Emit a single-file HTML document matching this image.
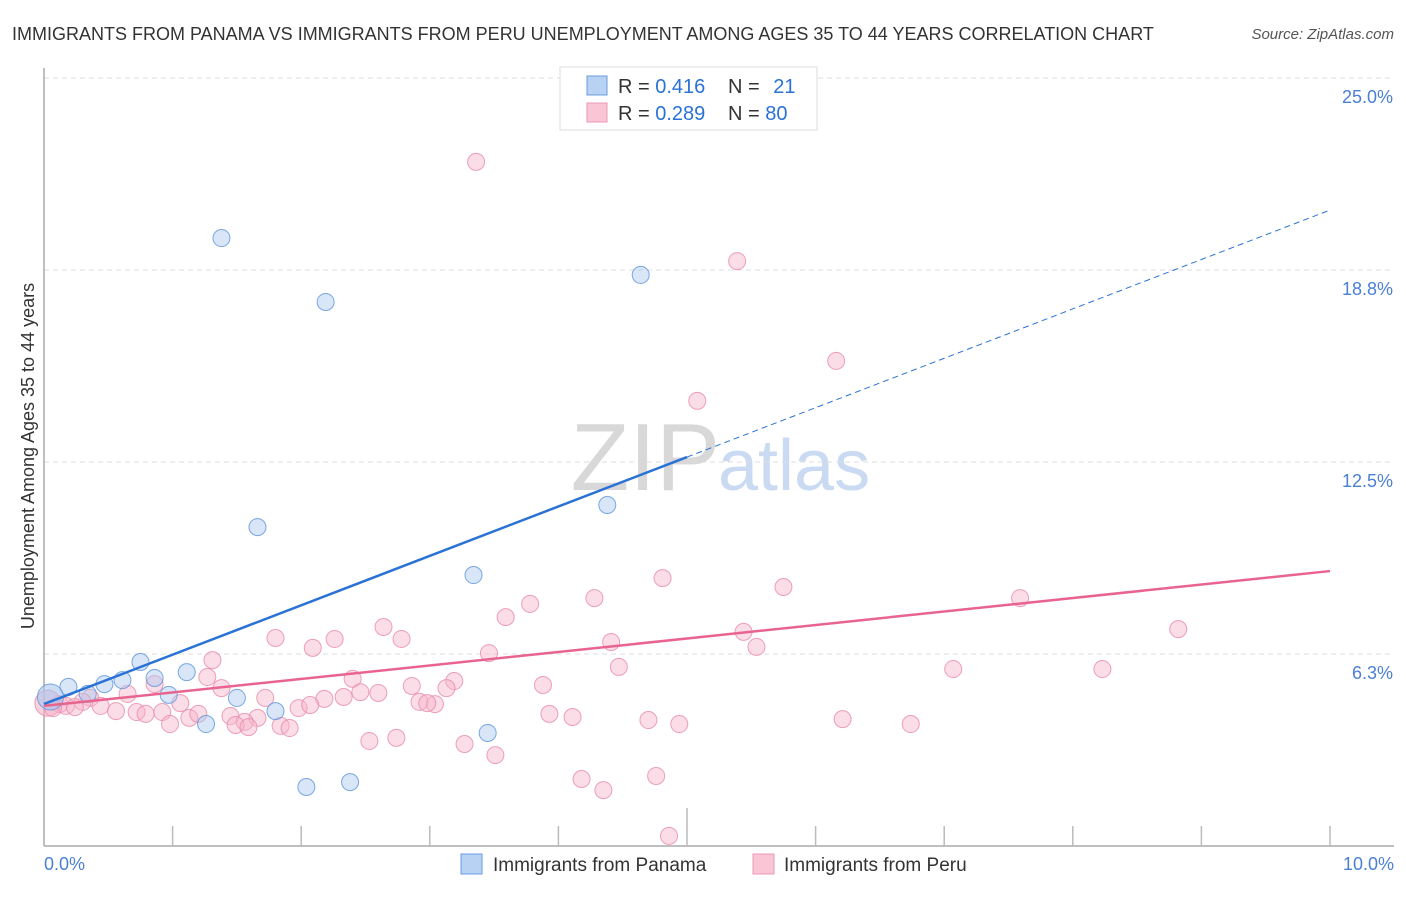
<!DOCTYPE html>
<html><head><meta charset="utf-8"><style>
body{margin:0;background:#fff;font-family:"Liberation Sans",sans-serif;}
svg text{font-family:"Liberation Sans",sans-serif;}
</style></head><body>
<svg id="chart" width="1406" height="892">
<text x="12" y="40" font-size="18" fill="#333">IMMIGRANTS FROM PANAMA VS IMMIGRANTS FROM PERU UNEMPLOYMENT AMONG AGES 35 TO 44 YEARS CORRELATION CHART</text>
<text x="1394" y="39" font-size="15" font-style="italic" fill="#555" text-anchor="end">Source: ZipAtlas.com</text>
<text x="720" y="490" font-size="96" font-family="Liberation Serif" fill="#d8d8d8" text-anchor="end">ZIP</text>
<text x="718" y="490" font-size="72" fill="#c9daf2">atlas</text>
<g id="grid"></g><g id="axes"></g><g id="pts"></g><g id="lines"></g>
<text transform="translate(34,456) rotate(-90)" font-size="18" fill="#333" text-anchor="middle">Unemployment Among Ages 35 to 44 years</text>
<text x="44" y="870" font-size="18" fill="#4a7fd4">0.0%</text>
<text x="1394" y="870" font-size="18" fill="#4a7fd4" text-anchor="end">10.0%</text>
<g>
<rect x="560" y="67" width="257" height="63" fill="#fff" stroke="#ddd"/>
<rect x="587" y="76" width="20" height="19" fill="#b8d2f3" stroke="#6a9be0"/>
<rect x="587" y="103" width="20" height="19" fill="#f9c6d6" stroke="#ec98b3"/>
<text x="618" y="93" font-size="20" fill="#333">R = <tspan fill="#2a72d5">0.416</tspan></text>
<text x="728" y="93" font-size="20" fill="#333">N = <tspan fill="#2a72d5" dx="8">21</tspan></text>
<text x="618" y="120" font-size="20" fill="#333">R = <tspan fill="#2a72d5">0.289</tspan></text>
<text x="728" y="120" font-size="20" fill="#333">N = <tspan fill="#2a72d5">80</tspan></text>
</g>
<g>
<rect x="461" y="854" width="21" height="20" fill="#b8d2f3" stroke="#6a9be0"/>
<text x="493" y="871" font-size="19" fill="#333">Immigrants from Panama</text>
<rect x="753" y="854" width="21" height="20" fill="#f9c6d6" stroke="#ec98b3"/>
<text x="784" y="871" font-size="19" fill="#333">Immigrants from Peru</text>
</g>
</svg>
<script>
const yTicks=[25.0,18.8,12.5,6.3];
const yTickLabels=["25.0%","18.8%","12.5%","6.3%"];
const panamaX=[1.38,2.19,4.64,1.66,4.38,3.34,0.75,1.11,0.86,0.61,0.47,0.19,0.05,0.34,0.97,1.50,1.80,1.26,3.45,2.04,2.38];
const panamaY=[19.79,17.71,18.59,10.38,11.10,8.82,5.99,5.66,5.47,5.40,5.27,5.18,4.85,4.95,4.92,4.82,4.39,3.97,3.68,1.92,2.08];
const peruX=[3.36,5.39,6.16,5.08,4.81,5.75,7.59,4.28,3.78,3.59,2.64,1.80,2.26,2.78,8.82,5.44,4.41,5.54,2.09,3.46,1.31,4.47,7.07,8.23,0.86,2.40,1.27,2.86,3.88,3.19,3.13,1.38,2.46,2.60,0.65,1.72,2.18,2.33,2.92,3.04,2.98,1.98,0.36,0.30,0.12,1.06,0.44,0.56,0.72,0.79,0.92,1.13,1.20,1.45,1.66,1.56,1.49,1.59,1.84,1.91,3.93,4.11,4.70,4.94,6.21,6.74,0.98,2.53,2.74,3.27,3.51,4.18,4.35,4.76,4.86,0.03,0.17,0.07,0.24,2.07];
const peruY=[22.27,19.04,15.79,14.49,8.72,8.43,8.07,8.07,7.88,7.45,7.13,6.77,6.74,6.74,7.06,6.97,6.64,6.48,6.45,6.28,6.05,5.83,5.76,5.76,5.27,5.44,5.50,5.21,5.24,5.37,5.14,5.14,5.01,4.98,4.95,4.82,4.79,4.85,4.69,4.62,4.65,4.49,4.82,4.69,4.62,4.65,4.56,4.39,4.36,4.30,4.36,4.17,4.30,4.23,4.17,4.04,3.94,3.87,3.91,3.84,4.30,4.20,4.10,3.97,4.13,3.97,3.97,3.42,3.52,3.32,2.96,2.18,1.82,2.28,0.33,4.65,4.56,4.49,4.52,4.59];
const panamaFit=[4.62,1.608];
const peruFit=[4.56,0.439];
const NS="http://www.w3.org/2000/svg";
const X0=44,X1=1330,Y0=846,PXY=30.72;
function sx(v){return X0+(X1-X0)*v/10;}
function sy(v){return Y0-v*PXY;}
function mk(tag,attrs,parent){const e=document.createElementNS(NS,tag);for(const k in attrs)e.setAttribute(k,attrs[k]);parent.appendChild(e);return e;}
const grid=document.getElementById('grid'),axes=document.getElementById('axes'),pts=document.getElementById('pts'),lines=document.getElementById('lines');
yTicks.forEach((t,i)=>{const yy=sy(t===6.3?6.25:t===18.8?18.75:t);
const g=mk('line',{x1:X0,x2:1394,y1:yy,y2:yy,stroke:'#ddd','stroke-dasharray':'5,4'},grid);


const tx=mk('text',{x:1393,y:yy+25,'font-size':18,fill:'#4a7fd4','text-anchor':'end'},grid);tx.textContent=yTickLabels[i];

});
const ax=mk('line',{x1:X0,x2:X0,y1:68,y2:846,stroke:'#aaa','stroke-width':1.5},axes);


const bx=mk('line',{x1:X0,x2:1394,y1:846,y2:846,stroke:'#aaa','stroke-width':1.5},axes);


for(let i=1;i<=10;i++){const t=mk('line',{x1:sx(i),x2:sx(i),y1:i===5?808:826,y2:846,stroke:'#bbb','stroke-width':1.5},axes);

}
function dots(xs,ys,fill,stroke,name){xs.forEach((x,i)=>{const big=x<0.1&&i>=0&&(name==='panama-point'?i===12:i===75);
const c=mk('circle',{cx:sx(x),cy:sy(ys[i]),r:big?13:8.5,fill:fill,'fill-opacity':big?0.6:0.45,stroke:stroke,'stroke-opacity':0.8,'stroke-width':1},pts);

});}
dots(peruX,peruY,'#f7b3c9','#e98aa8','peru-point');
dots(panamaX,panamaY,'#a9c8ef','#5b93dc','panama-point');
const l1=mk('line',{x1:sx(0),y1:sy(panamaFit[0]),x2:sx(5),y2:sy(panamaFit[0]+5*panamaFit[1]),stroke:'#2a72d5','stroke-width':2.5},lines);


const l2=mk('line',{x1:sx(5),y1:sy(panamaFit[0]+5*panamaFit[1]),x2:sx(10),y2:sy(panamaFit[0]+10*panamaFit[1]),stroke:'#2a72d5','stroke-width':1,'stroke-dasharray':'6,4'},lines);


const l3=mk('line',{x1:sx(0),y1:sy(peruFit[0]),x2:sx(10),y2:sy(peruFit[0]+10*peruFit[1]),stroke:'#e8648f','stroke-width':2.5},lines);


</script>
</body></html>
